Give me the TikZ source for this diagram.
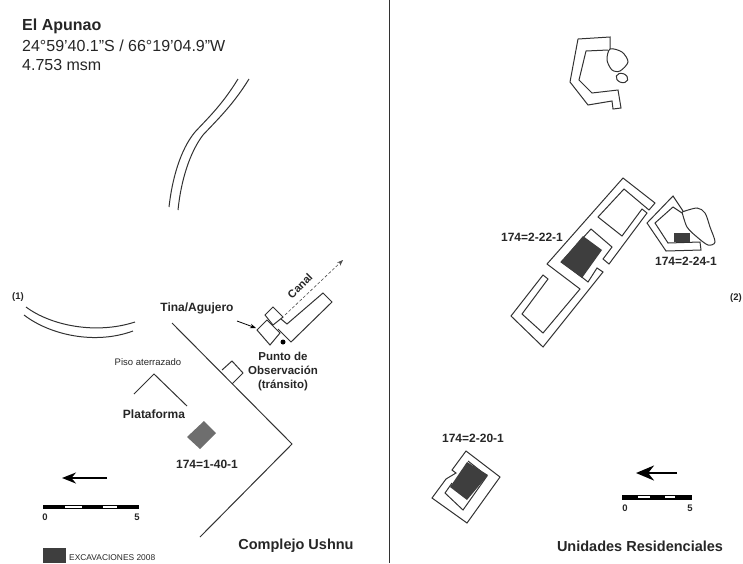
\documentclass[tikz,border=0pt]{standalone}
\usepackage{fontspec}
\setmainfont{Liberation Sans}
\usetikzlibrary{arrows.meta}
\definecolor{wallgray}{RGB}{50,50,50}
\definecolor{digdark}{RGB}{62,62,62}
\definecolor{diggray}{RGB}{110,110,110}
\tikzset{
  wall/.style={draw=wallgray, line width=1pt, line join=miter},
  label/.style={font=\bfseries\fontsize{12}{12}\selectfont, text=black!85, inner sep=0pt},
  title/.style={font=\bfseries\fontsize{14.5}{15}\selectfont, text=black!85, inner sep=0pt},
  header/.style={font=\fontsize{16}{16}\selectfont, text=black!85, inner sep=0pt, anchor=west},
  tick/.style={font=\bfseries\fontsize{9.5}{9.5}\selectfont, text=black!85, inner sep=0pt},
  north/.style={black, line width=2pt, -{Stealth[length=14pt,width=11pt]}},
}
\begin{document}
\begin{tikzpicture}[x=1pt,y=-1pt]
\useasboundingbox (0,0) rectangle (743,563);
% Divider
\draw[wallgray, line width=1pt] (389,0) -- (389,563);
% Header
\node[header, font=\bfseries\fontsize{16}{16}\selectfont] (site) at (22,26) {El Apunao};
\node[header] (coords) at (22,46) {24°59'40.1"S / 66°19'04.9"W};
\node[header] (height) at (22,65) {4.753 msm};
% Curved walls
\draw[wall] (238,79) .. controls (222,105) and (208,118) .. (195,132) .. controls (180,150) and (172,180) .. (169,207);
\draw[wall] (249,79) .. controls (233,105) and (217,120) .. (203,135) .. controls (190,152) and (181,180) .. (178,210);
\draw[wall] (26,307) .. controls (50,325) and (95,335) .. (135,322);
\draw[wall] (24,315) .. controls (50,335) and (95,345) .. (133,331);
\node[tick] (one) at (18,297) {(1)};
% Ushnu
\draw[wall] (172,323) -- (292,444) -- (200,537);
\draw[wall] (222,370) -- (232,361) -- (243,373) -- (232,384);
\draw[wall] (134,394) -- (154,374) -- (187,406);
\fill[diggray] (187,437) -- (204,421) -- (216,433) -- (200,449) -- cycle;
% Canal and tina
\draw[wall] (265,315) -- (273,307) -- (283,317) -- (273,325) -- cycle;
\draw[wall] (257,330) -- (267,320) -- (280,333) -- (270,345) -- cycle;
\draw[wall] (281,319) -- (287,324) -- (323,293) -- (332,302) -- (291,342) -- (278,329);
\fill[black] (283,342) circle (2.5pt);
\coordinate (canalfrom) at (285,315);
\coordinate (canalto) at (343,260);
\draw[black!70, densely dashed, line width=0.6pt, -{Stealth[length=6pt]}] (canalfrom) -- (canalto);
\coordinate (tinafrom) at (237,321);
\coordinate (tinato) at (256,328);
\draw[black, line width=0.8pt, -{Stealth[length=6pt]}] (tinafrom) -- (tinato);
% Labels left
\node[label] (tina) at (197,308) {Tina/Agujero};
\node[label, rotate=45, font=\bfseries\fontsize{11}{11}\selectfont] (canal) at (300,286) {Canal};
\node[label, align=center, font=\bfseries\fontsize{11.5}{14}\selectfont] (punto) at (283,372) {Punto de\\Observación\\(tránsito)};
\node[label, font=\fontsize{9.5}{10}\selectfont] (piso) at (148,362) {Piso aterrazado};
\node[label] (plat) at (154,414) {Plataforma};
\node[label] (pit1) at (207,464) {174=1-40-1};
\node[title] (ushnu) at (296,546) {Complejo Ushnu};
% North and scale left
\coordinate (northa) at (107,478);
\coordinate (northb) at (62,478);
\draw[north] (northa) -- (northb);
\fill[black] (43,505) rectangle (139,509);
\fill[white] (65,506) rectangle (82,508);
\fill[white] (103,506) rectangle (117,508);
\node[tick] (zeroa) at (45,517) {0};
\node[tick] (fivea) at (137,517) {5};
% Legend
\fill[digdark] (43,548) rectangle (66,563);
\node[label, anchor=west, font=\fontsize{8.4}{8.4}\selectfont] (legend) at (69,558) {EXCAVACIONES 2008};
% Upper house
\draw[wall] (610,49) -- (610,37) -- (578,39) -- (570,82) -- (588,105) -- (612,101) -- (613,109) -- (621,108) -- (618,90) -- (592,93) -- (579,80) -- (586,51) -- (608,50);
\draw[wall] plot[smooth cycle] coordinates {(610,49) (622,52) (628,62) (620,71) (612,70) (607,60)};
\draw[wall, rotate around={-20:(622,78)}] (622,78) ellipse (6 and 4.5);
% Long house
\draw[wall] (547,264) -- (623,178) -- (655,203) -- (649,210) -- (624,189) -- (598,217) -- (622,236) -- (642,209) -- (647,213) -- (609,264) -- (603,259) -- (612,247) -- (591,229) -- (561,262) -- (583,278) -- (588,282) -- (597,268) -- (603,272) -- (543,347) -- (511,316) -- (543,275) -- (548,279) -- (522,314) -- (543,333) -- (580,289) -- cycle;
\fill[digdark] (561,262) -- (583,236) -- (602,250) -- (582,278) -- cycle;
\node[label] (pit22) at (532,237) {174=2-22-1};
% Hut
\draw[wall] (682,213) -- (673,207) -- (655,223) -- (668,243) -- (700,242) -- (701,250) -- (666,251) -- (647,223) -- (673,196) -- (683,211);
\draw[wall] plot[smooth, tension=0.5] coordinates {(682,212) (697,208) (705,213) (710,227) (715,242) (708,245) (697,237) (687,227) (682,212)};
\fill[digdark] (674,233) rectangle (690,242);
\node[label] (pit24) at (686,261) {174=2-24-1};
\node[tick] (two) at (736,298) {(2)};
% Small house
\draw[wall] (466,451) -- (452,470) -- (456,473) -- (446,479) -- (432,498) -- (467,523) -- (500,477) -- cycle;
\draw[wall] (452,483) -- (445,493) -- (463,510) -- (487,476) -- (468,461);
\fill[digdark] (467,462) -- (488,475) -- (467,500) -- (450,487) -- cycle;
\node[label] (pit20) at (473,438) {174=2-20-1};
% North and scale right
\coordinate (northc) at (677,473);
\coordinate (northd) at (636,473);
\draw[north, line width=2.6pt, -{Stealth[length=18pt,width=15pt]}] (northc) -- (northd);
\fill[black] (622,495) rectangle (692,499.5);
\fill[white] (638,496) rectangle (650,498);
\fill[white] (665,496) rectangle (675,498);
\node[tick] (zerob) at (625,508) {0};
\node[tick] (fiveb) at (690,508) {5};
\node[title] (units) at (640,546) {Unidades Residenciales};
\end{tikzpicture}
\end{document}
